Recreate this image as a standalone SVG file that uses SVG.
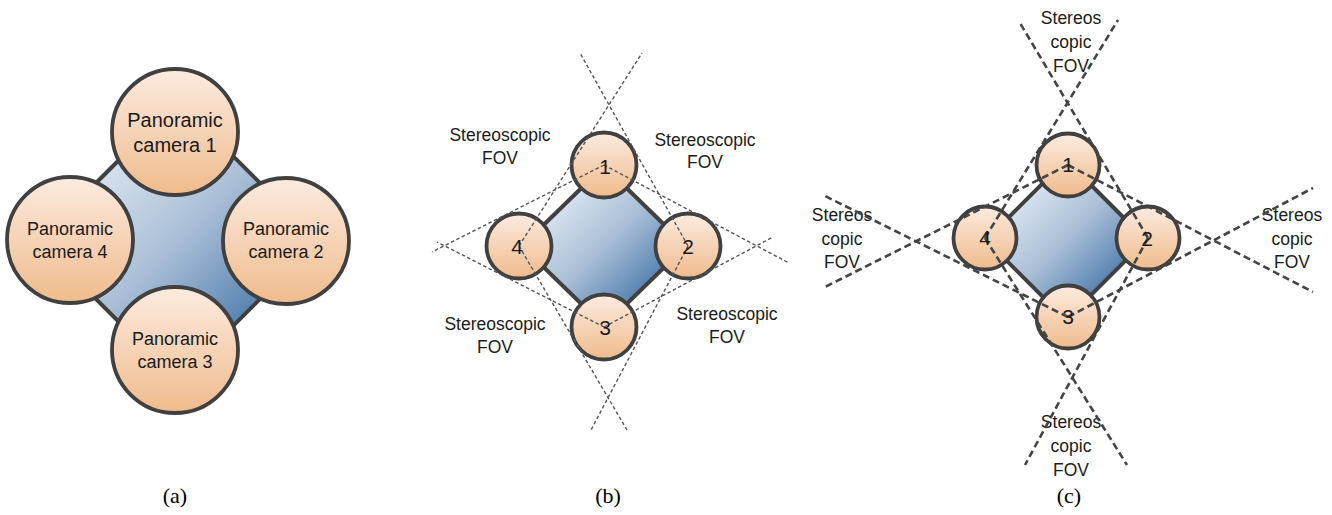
<svg xmlns="http://www.w3.org/2000/svg" width="1332" height="515" viewBox="0 0 1332 515">
  <defs>
    <linearGradient id="camFill" x1="0" y1="0" x2="0" y2="1">
      <stop offset="0" stop-color="#fcebe0"/>
      <stop offset="1" stop-color="#efbb8c"/>
    </linearGradient>
    <linearGradient id="baseFill" x1="0" y1="0" x2="1" y2="1">
      <stop offset="0.15" stop-color="#e6eef7"/>
      <stop offset="0.5" stop-color="#a9bed6"/>
      <stop offset="0.85" stop-color="#3a6ea4"/>
    </linearGradient>
    <style>
      .cam { fill: url(#camFill); stroke: #404040; stroke-width: 3.8; }
      .base { fill: url(#baseFill); stroke: #404040; stroke-width: 4; stroke-linejoin: round; }
      .lbl { font-family: "Liberation Sans", Arial, sans-serif; fill: #1a1a1a; text-anchor: middle; }
      .pan { font-size: 18px; }
      .pan1 { font-size: 20px; }
      .num { font-size: 21px; }
      .fov { font-size: 17.5px; }
      .cap { font-family: "Liberation Serif", "Times New Roman", serif; font-size: 22px; fill: #000; text-anchor: middle; }
      .dashB { stroke: #555; stroke-width: 1.4; stroke-dasharray: 3.5 2.5; fill: none; }
      .dashC { stroke: #444; stroke-width: 2.6; stroke-dasharray: 7 4; fill: none; }
    </style>
  </defs>
  <rect width="1332" height="515" fill="#ffffff"/>

  <!-- Panel (a) -->
  <g id="a-base"><polygon class="base" points="178,101 318,241 178,381 38,241"/></g>
  <g id="a-cam1"><circle class="cam" cx="175" cy="132" r="63"/>
    <text class="lbl pan1" x="175" y="127">Panoramic</text><text class="lbl pan1" x="175" y="152">camera 1</text></g>
  <g id="a-cam2"><circle class="cam" cx="286" cy="241" r="63"/>
    <text class="lbl pan" x="286" y="235">Panoramic</text><text class="lbl pan" x="286" y="258">camera 2</text></g>
  <g id="a-cam4"><circle class="cam" cx="70" cy="240" r="63"/>
    <text class="lbl pan" x="70" y="235">Panoramic</text><text class="lbl pan" x="70" y="258">camera 4</text></g>
  <g id="a-cam3"><circle class="cam" cx="175" cy="350" r="63"/>
    <text class="lbl pan" x="175" y="345">Panoramic</text><text class="lbl pan" x="175" y="368">camera 3</text></g>
  <text class="cap" x="175" y="503">(a)</text>

  <!-- Panel (b) -->
  <g id="b-base"><polygon class="base" points="604,166 686,246 604,326 522,246"/></g>
  <g id="b-cam1"><circle class="cam" cx="604" cy="165" r="32.5"/></g>
  <g id="b-cam2"><circle class="cam" cx="688" cy="246" r="32.5"/></g>
  <g id="b-cam3"><circle class="cam" cx="604" cy="327" r="32.5"/></g>
  <g id="b-cam4"><circle class="cam" cx="519" cy="246" r="32.5"/></g>
  <g id="b-fov">
    <line class="dashB" x1="519" y1="246" x2="642" y2="53"/>
    <line class="dashB" x1="688" y1="246" x2="580" y2="53"/>
    <line class="dashB" x1="519" y1="246" x2="627" y2="430"/>
    <line class="dashB" x1="688" y1="246" x2="591" y2="430"/>
    <line class="dashB" x1="604" y1="165" x2="432" y2="252"/>
    <line class="dashB" x1="604" y1="327" x2="437" y2="242"/>
    <line class="dashB" x1="604" y1="165" x2="789" y2="263"/>
    <line class="dashB" x1="604" y1="327" x2="773" y2="237"/>
  </g>
  <g id="b-nums">
    <text class="lbl num" x="605" y="174">1</text>
    <text class="lbl num" x="688" y="254">2</text>
    <text class="lbl num" x="605" y="335">3</text>
    <text class="lbl num" x="517" y="254">4</text>
  </g>
  <g id="b-labels">
    <text class="lbl fov" x="500" y="141">Stereoscopic</text><text class="lbl fov" x="500" y="164">FOV</text>
    <text class="lbl fov" x="705" y="146">Stereoscopic</text><text class="lbl fov" x="705" y="168">FOV</text>
    <text class="lbl fov" x="495" y="330">Stereoscopic</text><text class="lbl fov" x="495" y="353">FOV</text>
    <text class="lbl fov" x="727" y="320">Stereoscopic</text><text class="lbl fov" x="727" y="343">FOV</text>
  </g>
  <text class="cap" x="608" y="503">(b)</text>

  <!-- Panel (c) -->
  <g id="c-base"><polygon class="base" points="1066,160 1146,240 1066,320 986,240"/></g>
  <g id="c-cam1"><circle class="cam" cx="1068" cy="165" r="31.5"/></g>
  <g id="c-cam2"><circle class="cam" cx="1148" cy="238" r="31.5"/></g>
  <g id="c-cam3"><circle class="cam" cx="1068" cy="317" r="31.5"/></g>
  <g id="c-cam4"><circle class="cam" cx="985" cy="238" r="31.5"/></g>
  <g id="c-labels">
    <text class="lbl fov" x="1071" y="24">Stereos</text><text class="lbl fov" x="1071" y="48">copic</text><text class="lbl fov" x="1071" y="72">FOV</text>
    <text class="lbl fov" x="842" y="221">Stereos</text><text class="lbl fov" x="842" y="245">copic</text><text class="lbl fov" x="842" y="268">FOV</text>
    <text class="lbl fov" x="1292" y="221">Stereos</text><text class="lbl fov" x="1292" y="245">copic</text><text class="lbl fov" x="1292" y="268">FOV</text>
    <text class="lbl fov" x="1071" y="428">Stereos</text><text class="lbl fov" x="1071" y="452">copic</text><text class="lbl fov" x="1071" y="476">FOV</text>
  </g>
  <g id="c-fov">
    <line class="dashC" x1="985" y1="238" x2="1118" y2="20"/>
    <line class="dashC" x1="1148" y1="238" x2="1020" y2="23"/>
    <line class="dashC" x1="985" y1="238" x2="1127" y2="465"/>
    <line class="dashC" x1="1148" y1="238" x2="1025" y2="465"/>
    <line class="dashC" x1="1068" y1="165" x2="823" y2="288"/>
    <line class="dashC" x1="1068" y1="317" x2="823" y2="195"/>
    <line class="dashC" x1="1068" y1="165" x2="1313" y2="292"/>
    <line class="dashC" x1="1068" y1="317" x2="1313" y2="188"/>
  </g>
  <g id="c-nums">
    <text class="lbl num" x="1068" y="172">1</text>
    <text class="lbl num" x="1147" y="246">2</text>
    <text class="lbl num" x="1068" y="324">3</text>
    <text class="lbl num" x="985" y="245">4</text>
  </g>
  <text class="cap" x="1069" y="503">(c)</text>
</svg>
